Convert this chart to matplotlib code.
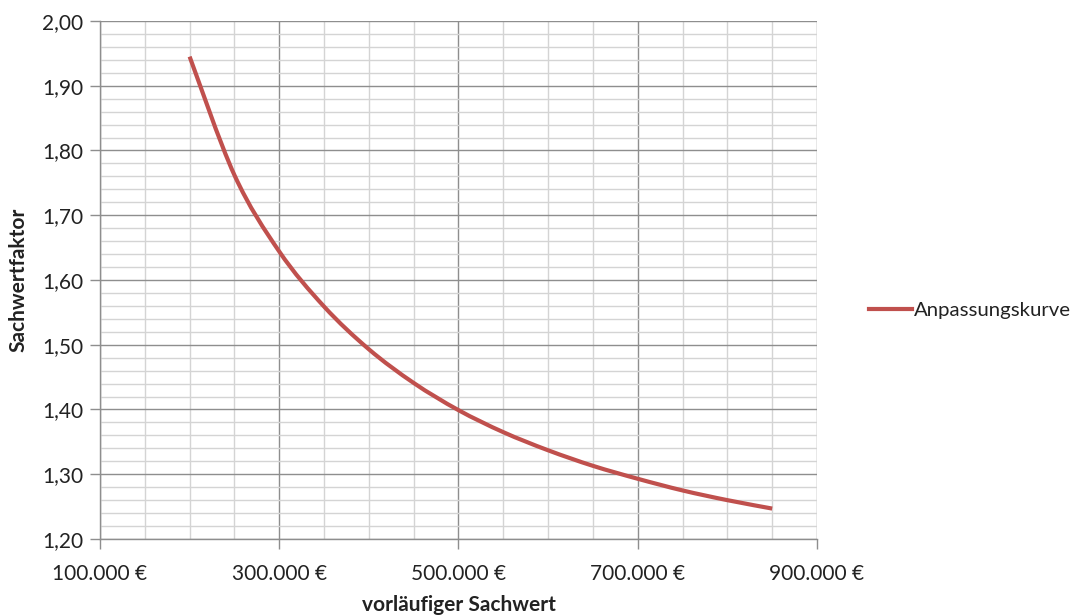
import matplotlib
matplotlib.use("Agg")
import matplotlib.pyplot as plt
from matplotlib.ticker import FixedLocator, MultipleLocator, FuncFormatter
from matplotlib.lines import Line2D
from matplotlib.path import Path
from matplotlib.patches import PathPatch

plt.rcParams['font.family'] = ['Lato', 'DejaVu Sans']

# Data
sachwert = [200000, 250000, 300000, 350000, 400000, 450000, 500000,
            550000, 600000, 650000, 700000, 750000, 800000, 850000]
faktor = [1.945, 1.762, 1.644, 1.559, 1.493, 1.441, 1.399,
          1.365, 1.337, 1.313, 1.293, 1.275, 1.260, 1.247]
x_ticks = [100000, 300000, 500000, 700000, 900000]
series_name = "Anpassungskurve"
x_label = "vorläufiger Sachwert"
y_label = "Sachwertfaktor"

W, H = 1082, 615
fig = plt.figure(figsize=(W / 100, H / 100), dpi=100)
left, right, top, bottom = 100, 817, 21, 539
ax = fig.add_axes([left / W, 1 - bottom / H, (right - left) / W, (bottom - top) / H])

line_color = "#C0504D"
lw = 3.0

# Smoothed line (like a spreadsheet's "smoothed line") through the data points
pts = list(zip(sachwert, faktor))
verts = [pts[0]]
codes = [Path.MOVETO]
n = len(pts)
for i in range(n - 1):
    p0 = pts[i - 1] if i > 0 else pts[i]
    p1 = pts[i]
    p2 = pts[i + 1]
    p3 = pts[i + 2] if i + 2 < n else pts[i + 1]
    c1 = (p1[0] + (p2[0] - p0[0]) / 6, p1[1] + (p2[1] - p0[1]) / 6)
    c2 = (p2[0] - (p3[0] - p1[0]) / 6, p2[1] - (p3[1] - p1[1]) / 6)
    verts += [c1, c2, p2]
    codes += [Path.CURVE4] * 3
ax.add_patch(PathPatch(Path(verts, codes), facecolor='none', edgecolor=line_color,
                       lw=lw, capstyle='butt', joinstyle='round', zorder=3))

ax.set_xlim(100000, 900000)
ax.set_ylim(1.20, 2.00)
ax.xaxis.set_major_locator(FixedLocator(x_ticks))
ax.xaxis.set_minor_locator(MultipleLocator(50000))
ax.yaxis.set_major_locator(MultipleLocator(0.10))
ax.yaxis.set_minor_locator(MultipleLocator(0.02))

ax.grid(which='minor', color='#D4D4D4', lw=1.0, zorder=0)
ax.grid(which='major', color='#8E8E8E', lw=1.0, zorder=1)
ax.set_axisbelow(True)

def fmt_x(v, pos):
    return f"{int(round(v)):,}".replace(",", ".") + " €"

def fmt_y(v, pos):
    return f"{v:.2f}".replace(".", ",")

ax.xaxis.set_major_formatter(FuncFormatter(fmt_x))
ax.yaxis.set_major_formatter(FuncFormatter(fmt_y))

for s in ['top', 'right']:
    ax.spines[s].set_visible(False)
for s in ['left', 'bottom']:
    ax.spines[s].set_color('#8E8E8E')
    ax.spines[s].set_linewidth(1.0)

ax.tick_params(which='major', length=7, width=1.0, color='#8E8E8E',
               labelsize=15, labelcolor='#222222')
ax.tick_params(axis='y', which='major', pad=5)
ax.tick_params(axis='x', which='major', pad=11)
ax.tick_params(which='minor', length=0)

ax.set_xlabel(x_label, fontsize=15, fontweight='bold', color='#222222', labelpad=8)
ax.set_ylabel(y_label, fontsize=15, fontweight='bold', color='#222222', labelpad=10)

handle = Line2D([], [], color=line_color, lw=lw)
fig.legend([handle], [series_name], loc='center left',
           bbox_to_anchor=(851 / W, 1 - 310 / H), frameon=False,
           fontsize=14.7, handlelength=2.1, handletextpad=0.1,
           labelcolor='#222222')

fig.savefig("out.png", dpi=100)
